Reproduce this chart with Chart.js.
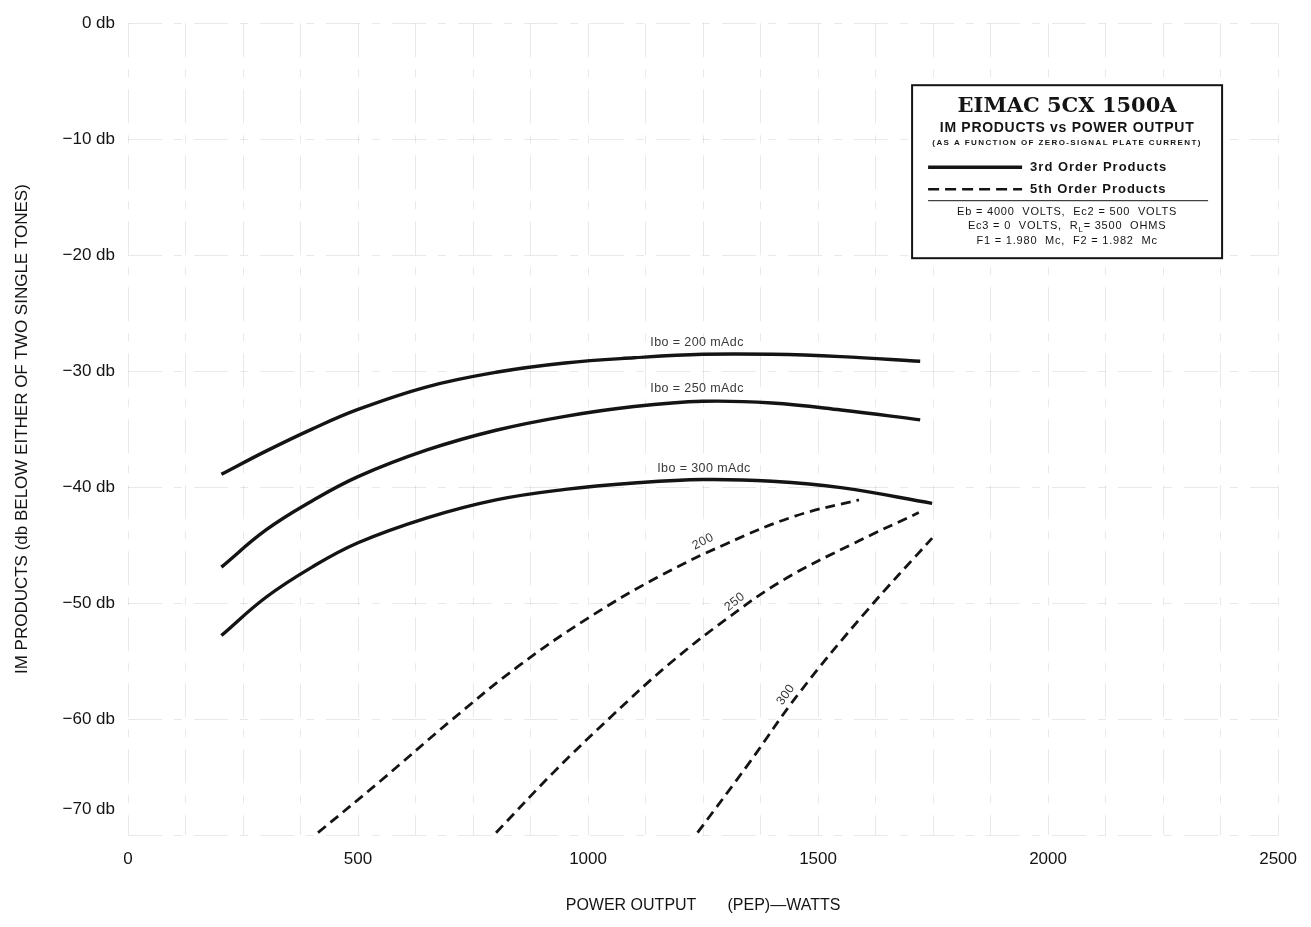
<!DOCTYPE html>
<html>
<head>
<meta charset="utf-8">
<title>EIMAC 5CX1500A IM products vs power output</title>
<script src="https://cdn.jsdelivr.net/npm/chart.js@4.4.1/dist/chart.umd.min.js"></script>
<style>
  html, body { margin: 0; padding: 0; background: #fff; }
  #c { display: block; }
</style>
</head>
<body>
<canvas id="c" width="1311" height="927"></canvas>
<script>
// ---- Data: power output (PEP watts) and IM level (db) per curve ----
// 3rd order products, one curve per zero-signal plate current
const third200Watts = [203, 300, 400, 500, 650, 800, 950, 1100, 1250, 1400, 1550, 1722];
const third200Db    = [-38.9, -36.9, -35.0, -33.3, -31.35, -30.1, -29.3, -28.85, -28.55, -28.55, -28.75, -29.15];

const third250Watts = [203, 300, 400, 500, 650, 800, 950, 1100, 1250, 1400, 1550, 1722];
const third250Db    = [-46.9, -43.7, -41.2, -39.1, -36.8, -35.1, -33.9, -33.05, -32.6, -32.75, -33.35, -34.2];

const third300Watts = [203, 300, 400, 500, 650, 800, 950, 1100, 1250, 1400, 1550, 1748];
const third300Db    = [-52.8, -49.5, -46.9, -44.8, -42.65, -41.1, -40.2, -39.65, -39.35, -39.5, -40.05, -41.4];

// 5th order products
const fifth200Watts = [413, 550, 700, 850, 1000, 1150, 1300, 1450, 1589];
const fifth200Db    = [-69.8, -65.3, -60.2, -55.4, -51.3, -47.8, -44.9, -42.5, -41.1];

const fifth250Watts = [800, 925, 1050, 1175, 1300, 1425, 1575, 1719];
const fifth250Db    = [-69.8, -64.6, -59.8, -55.3, -51.4, -48.0, -44.9, -42.2];

const fifth300Watts = [1238, 1350, 1458, 1603, 1748];
const fifth300Db    = [-69.8, -63.8, -57.8, -50.8, -44.4];

// Axis ticks
const wattTickLabels = [0, 500, 1000, 1500, 2000, 2500];
const dbTickValues   = [0, -10, -20, -30, -40, -50, -60, -70];

// Curve names
const currentNames  = ['Ibo = 200 mAdc', 'Ibo = 250 mAdc', 'Ibo = 300 mAdc'];
const fifthNames    = ['200', '250', '300'];

// ---- Styling / layout ----
const INK = '#141414';
const SANS = "'Liberation Sans', Arial, Helvetica, sans-serif";
Chart.defaults.font.family = SANS;
Chart.defaults.color = INK;

const toPoints = (xs, ys) => xs.map((x, i) => ({ x, y: ys[i] }));
const solid = (label, xs, ys) => ({
  label, data: toPoints(xs, ys), borderColor: INK, borderWidth: 3.4,
  pointRadius: 0, tension: 0.4, fill: false
});
const dashed = (label, xs, ys) => ({
  label, data: toPoints(xs, ys), borderColor: INK, borderWidth: 2.8,
  borderDash: [10, 6], pointRadius: 0, tension: 0.4, fill: false
});

// Curve annotations, in data coordinates
const curveNotes = [
  { text: currentNames[0], x: 1237, y: -27.5, angle: 0,   size: 12.5 },
  { text: currentNames[1], x: 1237, y: -31.5, angle: 0,   size: 12.5 },
  { text: currentNames[2], x: 1252, y: -38.4, angle: 0,   size: 12.5 },
  { text: fifthNames[0],   x: 1250, y: -44.7, angle: -27, size: 12.5 },
  { text: fifthNames[1],   x: 1319, y: -49.9, angle: -38, size: 12.5 },
  { text: fifthNames[2],   x: 1430, y: -57.9, angle: -55, size: 12.5 }
];

const notesPlugin = {
  id: 'curveNotes',
  afterDatasetsDraw(chart) {
    const { ctx, scales: { x, y } } = chart;
    ctx.save();
    ctx.fillStyle = '#3a3a3a';
    ctx.textAlign = 'center';
    ctx.textBaseline = 'middle';
    ctx.letterSpacing = '0.4px';
    for (const n of curveNotes) {
      ctx.save();
      ctx.translate(x.getPixelForValue(n.x), y.getPixelForValue(n.y));
      ctx.rotate(n.angle * Math.PI / 180);
      ctx.font = `${n.size}px ${SANS}`;
      ctx.fillText(n.text, 0, 0);
      ctx.restore();
    }
    ctx.restore();
  }
};

// The bottom y label sits raised above its grid line, clear of the x labels
const bottomDbLabelPlugin = {
  id: 'bottomDbLabel',
  afterDraw(chart) {
    const { ctx, scales: { y }, chartArea } = chart;
    const v = dbTickValues[dbTickValues.length - 1];
    ctx.save();
    ctx.font = `17px ${SANS}`;
    ctx.fillStyle = INK;
    ctx.textAlign = 'right';
    ctx.textBaseline = 'middle';
    ctx.fillText(formatDb(v), chartArea.left - 13, y.getPixelForValue(v) - 26);
    ctx.restore();
  }
};

function formatDb(v) {
  return (v < 0 ? '\u2212' + Math.abs(v) : String(v)) + ' db';
}

// Title / legend panel in the upper right
const panelPlugin = {
  id: 'infoPanel',
  afterDraw(chart) {
    const { ctx, chartArea } = chart;
    const left = chartArea.right - 366, top = chartArea.top + 62;
    const w = 310, h = 173, cx = left + w / 2;
    ctx.save();
    ctx.fillStyle = '#fff';
    ctx.fillRect(left, top, w, h);
    ctx.strokeStyle = INK;
    ctx.lineWidth = 2;
    ctx.strokeRect(left, top, w, h);

    ctx.fillStyle = INK;
    ctx.textAlign = 'center';
    ctx.textBaseline = 'middle';
    ctx.font = "bold 21px 'DejaVu Serif', 'Liberation Serif', serif";
    ctx.fillText('EIMAC 5CX 1500A', cx, top + 21);
    ctx.letterSpacing = '0.7px';
    ctx.font = `bold 14px ${SANS}`;
    ctx.fillText('IM PRODUCTS vs POWER OUTPUT', cx, top + 43);
    ctx.letterSpacing = '1.4px';
    ctx.font = `bold 8px ${SANS}`;
    ctx.fillText('(AS A FUNCTION OF ZERO-SIGNAL PLATE CURRENT)', cx, top + 58);

    // line-style keys
    ctx.letterSpacing = '0px';
    const kx0 = left + 16, kx1 = left + 110;
    ctx.lineWidth = 3.6;
    ctx.beginPath(); ctx.moveTo(kx0, top + 82); ctx.lineTo(kx1, top + 82); ctx.stroke();
    ctx.lineWidth = 2.6;
    ctx.setLineDash([11, 6]);
    ctx.beginPath(); ctx.moveTo(kx0, top + 104); ctx.lineTo(kx1, top + 104); ctx.stroke();
    ctx.setLineDash([]);

    ctx.textAlign = 'left';
    ctx.letterSpacing = '1px';
    ctx.font = `bold 13px ${SANS}`;
    ctx.fillText('3rd Order Products', left + 118, top + 82);
    ctx.fillText('5th Order Products', left + 118, top + 104);

    ctx.lineWidth = 1;
    ctx.beginPath(); ctx.moveTo(left + 16, top + 115.5); ctx.lineTo(left + 296, top + 115.5); ctx.stroke();

    ctx.letterSpacing = '0.8px';
    ctx.textAlign = 'center';
    ctx.font = `11px ${SANS}`;
    ctx.fillText('Eb = 4000  VOLTS,  Ec2 = 500  VOLTS', cx, top + 127);
    // line with subscript
    const a = 'Ec3 = 0  VOLTS,  R', sub = 'L', b = '= 3500  OHMS';
    const wa = ctx.measureText(a).width, wb = ctx.measureText(b).width;
    ctx.font = `8px ${SANS}`;
    const ws = ctx.measureText(sub).width;
    const startX = cx - (wa + ws + wb) / 2;
    ctx.textAlign = 'left';
    ctx.font = `11px ${SANS}`;
    ctx.fillText(a, startX, top + 141);
    ctx.font = `8px ${SANS}`;
    ctx.fillText(sub, startX + wa, top + 145);
    ctx.font = `11px ${SANS}`;
    ctx.fillText(b, startX + wa + ws, top + 141);
    ctx.textAlign = 'center';
    ctx.fillText('F1 = 1.980  Mc,  F2 = 1.982  Mc', cx, top + 156);
    ctx.restore();
  }
};

const gridColor = 'rgba(0,0,0,0.085)';
const gridDash = [34, 12, 8, 12];

new Chart(document.getElementById('c'), {
  type: 'line',
  data: {
    datasets: [
      solid(currentNames[0], third200Watts, third200Db),
      solid(currentNames[1], third250Watts, third250Db),
      solid(currentNames[2], third300Watts, third300Db),
      dashed(fifthNames[0], fifth200Watts, fifth200Db),
      dashed(fifthNames[1], fifth250Watts, fifth250Db),
      dashed(fifthNames[2], fifth300Watts, fifth300Db)
    ]
  },
  options: {
    responsive: false,
    animation: false,
    devicePixelRatio: 1,
    layout: { padding: { top: 22, right: 31, bottom: 0, left: 0 } },
    plugins: { legend: { display: false }, tooltip: { enabled: false } },
    scales: {
      x: {
        type: 'linear',
        min: wattTickLabels[0],
        max: wattTickLabels[wattTickLabels.length - 1],
        afterBuildTicks(scale) {
          const ticks = [];
          for (let v = scale.min; v <= scale.max; v += 125) ticks.push({ value: v });
          scale.ticks = ticks;
        },
        ticks: {
          autoSkip: false,
          maxRotation: 0,
          padding: 14,
          font: { size: 17 },
          color: INK,
          callback: (v) => wattTickLabels.includes(v) ? String(v) : ''
        },
        grid: { color: gridColor, lineWidth: 1, drawTicks: false },
        border: { display: false, dash: gridDash },
        title: {
          display: true,
          text: 'POWER OUTPUT       (PEP)\u2014WATTS',
          font: { size: 16 },
          color: INK,
          padding: { top: 0, bottom: 12 }
        },
        afterFit(scale) { scale.height = 92; }
      },
      y: {
        type: 'linear',
        min: dbTickValues[dbTickValues.length - 1],
        max: dbTickValues[0],
        afterBuildTicks(scale) { scale.ticks = dbTickValues.map(v => ({ value: v })); },
        ticks: {
          autoSkip: false,
          padding: 13,
          font: { size: 17 },
          color: INK,
          callback: (v) => v === dbTickValues[dbTickValues.length - 1] ? '' : formatDb(v)
        },
        grid: { color: gridColor, lineWidth: 1, drawTicks: false },
        border: { display: false, dash: gridDash },
        title: {
          display: true,
          text: 'IM PRODUCTS (db BELOW EITHER OF TWO SINGLE TONES)',
          font: { size: 17 },
          color: INK,
          padding: { top: 12, bottom: 0 }
        },
        afterFit(scale) { scale.width = 128; }
      }
    }
  },
  plugins: [notesPlugin, bottomDbLabelPlugin, panelPlugin]
});
</script>
</body>
</html>
